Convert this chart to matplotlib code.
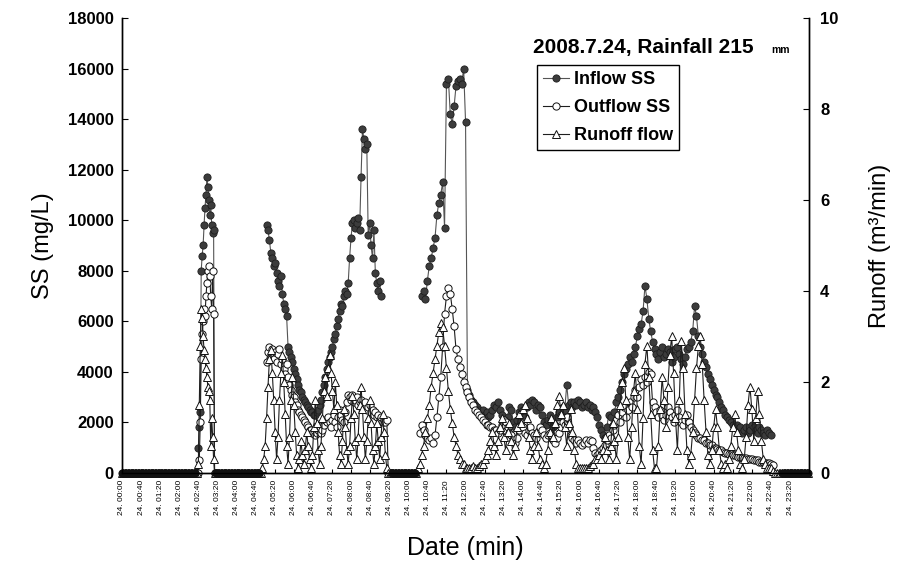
import numpy as np
import matplotlib.pyplot as plt
from matplotlib.lines import Line2D

plt.rcParams['font.family'] = ['Liberation Sans', 'DejaVu Sans']

nan = np.nan

# x axis: minutes from 24. 00:00, a tick every 40 min
tick_minutes = list(range(0, 1401, 40))
tick_labels = ["24. %02d:%02d" % (m // 60, m % 60) for m in tick_minutes]

# Event 1: start 156 min, every 2 min
ev1_t0, ev1_step = 156, 2
ev1_inflow = [nan, nan, 1000, 1800, 2400, 8000, 8600, 9000, 9800, 10500, 11000,
              11700, 11300, 10800, 10200, 10600, 9800, 9500, 9600, 0, nan]
ev1_outflow = [0, 0, 0, 500, 2000, 4500, 5500, 6000, 6500, 6200, 7000,
               7500, 8000, 8200, 7800, 7000, 6500, 8000, 6300, 0, 0]
ev1_runoff = [0, 0, 0.2, 1.5, 2.8, 3.6, 3.4, 3.0, 2.7, 2.5, 2.3,
              2.1, 1.9, 1.8, 1.6, 0.6, 1.2, 0.8, 0.3, 0, 0]

# Event 2: start 291 min, every 3 min
ev2_t0, ev2_step = 291, 3
ev2_inflow = [nan, nan, nan, nan,
              9800, 9600, 9200, 8700, 8500, 8200, 8300, 7900, 7600, 7400,
              7800, 7100, 6700, 6500, 6200, 5000, 4800, 4600, 4400, 4100,
              3900, 3700, 3500, 3300, 3200, 3000, 2900, 2800, 2700, 2600,
              2500, 2400, 2400, 2300, 2300, 2400, 2500, 2700, 2900, 3200,
              3500, 3800, 4100, 4400, 4600, 4800, 5000, 5300, 5500, 5800,
              6100, 6400, 6700, 6600, 7000, 7200, 7100, 7500, 8500, 9300,
              9900, 10000, 9700, 9900, 10100, 9600, 11700, 13600, 13200, 12800,
              13000, 9400, 9900, 9000, 8500, 9600, 7900, 7500, 7200, 7600,
              7000,
              nan, nan, nan, nan, nan, nan, nan]
ev2_outflow = [nan, nan, nan, nan,
               4400, 4800, 5000, 4600, 4900, 4500, 4800, 4400, 4700, 4900,
               4300, 4500, 4100, 3900, 4300, 3800, 3500, 3300, 3100, 3000,
               2800, 2700, 2500, 2400, 2300, 2200, 2100, 2000, 1900, 1800,
               1700, 1700, 1600, 1600, 1500, 1600, 1700, 1800, 1600, 1700,
               1900, 2100, 2000, 2200, 2000, 1800, 2100, 2300, 2000, 1800,
               2200, 2500, 2300, 2100, 2000, 2400, 2800, 3100, 3000, 2900,
               3100, 2800, 2900, 3000, 2700, 2800, 2900, 2600, 2700, 2800,
               2500, 2600, 2700, 2400, 2500, 2300, 2400, 2200, 2300, 2100,
               2200, 2000, 2100, 2000, 2100, 0, 0, 0]
ev2_runoff = [0, 0.1, 0.3, 0.6, 1.2, 1.9, 2.5, 2.7, 2.2, 1.6,
              0.9, 0.3, 0.8, 1.6, 2.2, 2.6, 2.0, 1.3, 0.6, 0.2,
              0.8, 1.6, 2.1, 1.5, 0.9, 0.4, 0.1, 0.3, 0.7, 0.4,
              0.2, 0.5, 0.9, 0.6, 0.3, 0.1, 0.4, 1.0, 1.6, 1.1,
              0.5, 0.2, 0.6, 1.2, 1.8, 2.1, 1.7, 2.3, 2.6, 2.2,
              1.8, 1.4, 2.0, 1.5, 0.9, 0.4, 0.2, 0.7, 1.4, 1.0,
              0.5, 0.2, 0.6, 1.2, 1.7, 1.3, 0.7, 0.3, 0.8, 1.5,
              1.9, 1.4, 0.8, 0.3, 0.7, 1.2, 1.6, 1.1, 0.5, 0.2,
              0.6, 1.1, 0.7, 0.3, 0.8, 1.3, 0.9, 0.4, 0.1, 0,
              0, 0]

# Event 3 to 5: start 616 min, every 4 min
ev3_t0, ev3_step = 616, 4
ev3_inflow = [nan, nan, nan,
              7000, 7200, 6900, 7600, 8200, 8500, 8900,
              9300, 10200, 10700, 11000, 11500, 9700, 15400, 15600, 14200, 13800,
              14500, 15300, 15500, 15600, 15400, 16000, 13900, 3300, 3100, 2900,
              2800, 2700, 2600, 2500, 2400, 2500, 2300, 2400, 2200, 2300,
              2500, 2700, 2600, 2800, 2500, 2300, 2100, 1900, 2200, 2600,
              2500, 2000, 1800, 2100, 2400, 2600, 2500, 2200, 2600, 2800,
              2700, 2900, 2800, 2500, 2700, 2600, 2300, 2000, 1900, 2100,
              2300, 2000, 1800, 1900, 2200, 2400, 2300, 2600, 2500, 3500,
              2700, 2800, 2600, 2800, 2700, 2900, 2800, 2600, 2700, 2800,
              2600, 2700, 2500, 2600, 2400, 2200, 1900, 1700, 1500, 1400,
              1800, 2300, 2200, 1900, 2400, 2800, 3000, 3300, 3600, 3900,
              4100, 4300, 4600, 4400, 4700, 5000, 5400, 5700, 5900, 6400,
              7400, 6900, 6100, 5600, 5200, 4900, 4700, 4500, 4800, 5000,
              4600, 4700, 4900, 4800, 4400, 4600, 4900, 5000, 4700, 4500,
              4300, 4600, 4900, 5000, 5200, 5600, 6600, 6200, 5400, 5000,
              4700, 4400, 4200, 3900, 3700, 3500, 3300, 3100, 3000, 2800,
              2600, 2500, 2300, 2200, 2100, 2000, 1900, 1800, 1900, 1700,
              1800, 1600, 1700, 1800, 1600, 1700, 1900, 1800, 1700, 1600,
              1800, 1700, 1600, 1500, 1700, 1600, 1500,
              nan, nan, nan, nan, nan]
ev3_outflow = [nan, nan,
               1600, 1900, 1700, 1500, 1400, 1300, 1400, 1200,
               1500, 2200, 3000, 3800, 5000, 6300, 7000, 7300, 7100, 6500,
               5800, 4900, 4500, 4200, 3900, 3600, 3400, 3200, 3000, 2800,
               2700, 2500, 2400, 2300, 2200, 2100, 2000, 1900, 1900, 1800,
               1800, 1700, 1700, 1600, 1700, 1900, 2100, 2000, 1800, 1600,
               1500, 1300, 1200, 1400, 1700, 1900, 1800, 1600, 1500, 1700,
               1800, 1600, 1500, 1400, 1600, 1800, 1700, 1500, 1400, 1500,
               1600, 1500, 1300, 1200, 1400, 1600, 1800, 2000, 1900, 2200,
               1800, 1500, 1400, 1300, 1200, 1300, 1200, 1100, 1200, 1300,
               1200, 1300, 1250, 1000, 800, 700, 800, 900, 1000, 1100,
               1300, 1500, 1400, 1700, 1900, 2100, 2300, 2000, 2400, 2600,
               2200, 2500, 2800, 2600, 3000, 3300, 3000, 3400, 3700, 3500,
               3800, 3600, 4000, 3900, 2800, 2600, 2400, 2200, 2500, 2300,
               2100, 2300, 2600, 2400, 2200, 2000, 2300, 2500, 2200, 2000,
               1900, 2100, 2300, 2000, 1800, 1700, 1600, 1500, 1400, 1400,
               1300, 1300, 1200, 1200, 1100, 1100, 1000, 1000, 950, 900,
               900, 850, 800, 800, 750, 750, 700, 700, 700, 650,
               650, 600, 600, 600, 550, 550, 550, 500, 500, 500,
               450, 450, 450, 400, 400, 400, 350, 300,
               nan, nan, nan, nan]
ev3_runoff = [0, 0.1, 0.2, 0.4, 0.6, 0.9, 1.2, 1.5, 1.9, 2.2,
              2.5, 2.8, 3.1, 3.3, 3.2, 2.8, 2.3, 1.8, 1.4, 1.1,
              0.8, 0.6, 0.4, 0.3, 0.2, 0.2, 0.1, 0.1, 0.1, 0.1,
              0.15, 0.1, 0.1, 0.15, 0.2, 0.2, 0.3, 0.4, 0.5, 0.7,
              0.9, 0.6, 0.4, 0.7, 1.0, 1.2, 0.8, 0.5, 0.9, 1.1,
              0.7, 0.4, 0.6, 1.0, 1.3, 1.1, 1.4, 1.5, 1.2, 0.8,
              0.5, 0.3, 0.6, 0.9, 0.6, 0.3, 0.2, 0.1, 0.2, 0.5,
              0.9, 1.2, 0.8, 1.1, 1.5, 1.7, 1.3, 1.5, 1.0, 0.6,
              1.1, 1.4, 0.9, 0.5, 0.2, 0.1, 0.1, 0.1, 0.1, 0.1,
              0.1, 0.15, 0.2, 0.2, 0.3, 0.3, 0.4, 0.3, 0.5, 0.8,
              0.5, 0.3, 0.6, 1.1, 0.7, 0.3, 0.8, 1.5, 2.0, 2.3,
              1.6, 0.8, 0.3, 1.0, 1.8, 2.2, 1.4, 0.6, 0.2, 1.2,
              2.4, 2.8, 2.1, 1.3, 0.5, 0.1, 0.1, 0.6, 1.4, 2.1,
              1.6, 1.0, 1.9, 2.6, 3.0, 2.2, 1.2, 0.5, 1.6, 2.9,
              2.3, 1.3, 0.5, 0.2, 0.4, 0.9, 1.6, 2.3, 2.8, 3.0,
              2.4, 1.6, 0.9, 0.4, 0.2, 0.5, 1.0, 1.4, 1.0, 0.5,
              0.2, 0.1, 0.2, 0.1, 0.3, 0.6, 1.0, 1.3, 0.9, 0.5,
              0.2, 0.1, 0.3, 0.8, 1.5, 1.9, 1.4, 0.7, 1.2, 1.8,
              1.3, 0.7, 0.3, 0.2, 0.1, 0.1, 0.1, 0.05, 0, 0,
              0, 0]

# periods with no flow (all series at zero), start/end in minutes
zero_periods = [(0, 154), (198, 289), (566, 614), (1384, 1440)]

events = [
    (ev1_t0, ev1_step, ev1_inflow, ev1_outflow, ev1_runoff),
    (ev2_t0, ev2_step, ev2_inflow, ev2_outflow, ev2_runoff),
    (ev3_t0, ev3_step, ev3_inflow, ev3_outflow, ev3_runoff),
]

in_style = dict(color='#555555', lw=0.8, marker='o', ms=5.2, mfc='#3c3c3c',
                mec='#1e1e1e', mew=0.6, clip_on=False)
out_style = dict(color='#1e1e1e', lw=0.8, marker='o', ms=5.2, mfc='white',
                 mec='#111111', mew=0.7, clip_on=False)
run_style = dict(color='#1e1e1e', lw=0.8, marker='^', ms=5.6, mfc='white',
                 mec='#111111', mew=0.7, clip_on=False)

fig = plt.figure(figsize=(8.99, 5.80), dpi=100)
ax = fig.add_axes([0.1357, 0.1845, 0.7643, 0.7845])
ax2 = ax.twinx()


def times(t0, step, vals):
    return t0 + step * np.arange(len(vals))


for t0, step, vin, vout, vrun in events:
    ax.plot(times(t0, step, vin), vin, **in_style)
    ax.plot(times(t0, step, vout), vout, **out_style)
    ax2.plot(times(t0, step, vrun), vrun, **run_style)

# zero periods: runoff and SS both sit on the base line, the dark
# inflow markers end up on top so the base line reads as a black band
for a, b in zero_periods:
    tz = np.arange(a, b + 1, 3)
    ax2.plot(tz, np.zeros(len(tz)), **run_style)
    ax2.plot(tz, np.zeros(len(tz)), **dict(in_style, mfc='#111111', mec='#111111'))

ax.set_xlim(0, 1440)
ax.set_ylim(0, 18000)
ax2.set_ylim(0, 10)
ax.set_yticks(range(0, 18001, 2000))
ax2.set_yticks(range(0, 11, 2))
ax.set_xticks(tick_minutes)
ax.set_xticklabels(tick_labels, rotation=90, fontsize=6)

for a in (ax, ax2):
    a.spines['top'].set_visible(False)
    for s in a.spines.values():
        s.set_linewidth(1.0)
ax.tick_params(axis='y', direction='in', length=4, labelsize=12, pad=6)
ax2.tick_params(axis='y', direction='in', length=4, labelsize=12, pad=8)
ax.tick_params(axis='x', direction='in', length=3, pad=5)
for lbl in ax.get_yticklabels() + ax2.get_yticklabels():
    lbl.set_fontweight('bold')

ax.set_ylabel("SS (mg/L)", fontsize=17, labelpad=10)
ax2.set_ylabel("Runoff (m\u00b3/min)", fontsize=17, labelpad=22)
ax.set_xlabel("Date (min)", fontsize=18, labelpad=15)

ax.text(0.598, 0.923, "2008.7.24, Rainfall 215", transform=ax.transAxes,
        fontsize=15, fontweight='bold', va='baseline', ha='left')
ax.text(0.945, 0.923, "mm", transform=ax.transAxes,
        fontsize=7.5, fontweight='bold', va='baseline', ha='left')

handles = [Line2D([], [], **in_style), Line2D([], [], **out_style),
           Line2D([], [], **run_style)]
leg = ax2.legend(handles, ["Inflow SS", "Outflow SS", "Runoff flow"],
                 loc='upper left', bbox_to_anchor=(0.604, 0.897),
                 prop={'size': 13, 'weight': 'bold'}, frameon=True,
                 fancybox=False, shadow=False, framealpha=1,
                 edgecolor='black', handlelength=1.4, handletextpad=0.3,
                 labelspacing=0.6, borderpad=0.35, borderaxespad=0)
leg.get_frame().set_linewidth(1.0)

fig.savefig("out.png", dpi=100)
